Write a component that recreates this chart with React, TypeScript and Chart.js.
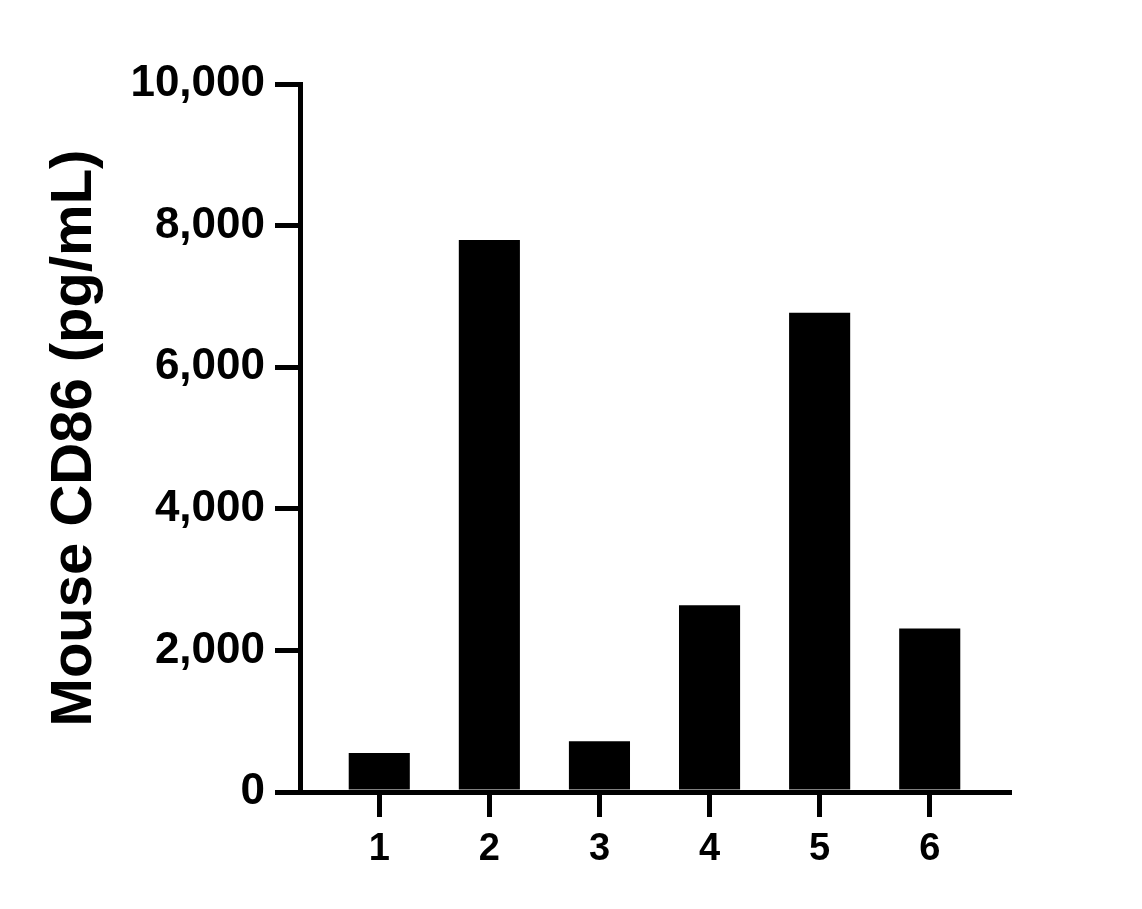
import React, { useEffect, useRef } from "react";
import { Chart, registerables } from "chart.js";

Chart.register(...registerables);

const categories = ["1", "2", "3", "4", "5", "6"];
const values = [551, 7796, 716, 2638, 6768, 2309];
const yTicks = [0, 2000, 4000, 6000, 8000, 10000];
const yTitle = "Mouse CD86 (pg/mL)";

const FONT = '"Liberation Sans", Arial, sans-serif';

export default function App() {
  const ref = useRef<HTMLCanvasElement | null>(null);

  useEffect(() => {
    const canvas = ref.current;
    if (!canvas) return;
    const chart = new Chart(canvas, {
      type: "bar",
      data: {
        datasets: [
          {
            data: categories.map((c, i) => ({ x: Number(c), y: values[i] })),
            backgroundColor: "#000",
            borderWidth: 0,
            categoryPercentage: 1,
            barPercentage: 0.555,
          },
        ],
      },
      options: {
        animation: false,
        responsive: false,
        devicePixelRatio: 1,
        layout: { padding: { left: 0, top: 84, right: 133, bottom: 0 } },
        plugins: { legend: { display: false }, tooltip: { enabled: false } },
        scales: {
          x: {
            type: "linear",
            min: 0.28,
            max: 6.72,
            offset: false,
            afterBuildTicks: (scale: any) => {
              scale.ticks = categories.map((c) => ({ value: Number(c) }));
            },
            afterFit: (scale: any) => {
              scale.height = 117;
            },
            border: { display: true, color: "#000", width: 5 },
            grid: {
              offset: false,
              drawOnChartArea: false,
              drawTicks: true,
              tickLength: 25,
              color: "#000",
              lineWidth: 5,
            },
            ticks: {
              color: "#000",
              padding: 10,
              font: { family: FONT, size: 38, weight: "bold" },
              callback: (v: any) => String(v),
              maxRotation: 0,
            },
          },
          y: {
            min: 0,
            max: 10000,
            afterBuildTicks: (scale: any) => {
              scale.ticks = yTicks.map((v) => ({ value: v }));
            },
            afterFit: (scale: any) => {
              scale.width = 300;
            },
            border: { display: true, color: "#000", width: 5 },
            grid: {
              drawOnChartArea: false,
              drawTicks: true,
              tickLength: 25,
              color: "#000",
              lineWidth: 5,
            },
            ticks: {
              color: "#000",
              padding: 10,
              font: { family: FONT, size: 44, weight: "bold" },
              callback: (v: any) => Number(v).toLocaleString("en-US"),
            },
            title: {
              display: true,
              text: yTitle,
              color: "#000",
              font: { family: FONT, size: 58, weight: "bold" },
              padding: { top: 40, bottom: 0 },
            },
          },
        },
      },
    });
    return () => chart.destroy();
  }, []);

  return (
    <div style={{ position: "fixed", left: 0, top: 0, width: 1142, height: 909, background: "#fff" }}>
      <canvas ref={ref} width={1142} height={909} style={{ display: "block" }} />
    </div>
  );
}
